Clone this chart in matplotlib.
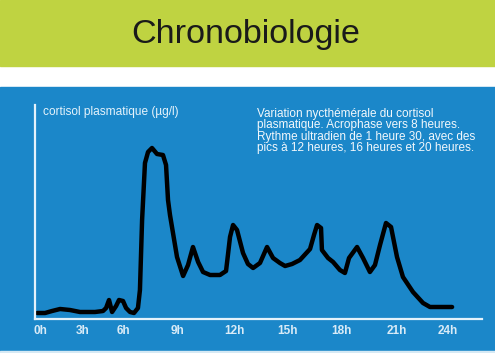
import numpy as np
import matplotlib
matplotlib.use("Agg")
import matplotlib.pyplot as plt
from matplotlib.patches import Rectangle

# Cortisol plasmatique sur 24 h (unités arbitraires)
heures = [-0.2, 0.35, 0.84, 1.40, 2.09, 2.79, 3.9, 4.5, 4.73, 4.95, 5.18, 5.48,
          5.7, 6.0, 6.17, 6.39, 6.61, 6.83, 6.94, 7.06, 7.22, 7.39, 7.61, 7.89,
          8.22, 8.39, 8.5, 8.61, 9.0, 9.32, 9.58, 9.84, 10.11, 10.37, 10.74,
          11.26, 11.58, 11.68, 11.79, 11.95, 12.17, 12.51, 12.79, 13.08, 13.47,
          13.87, 14.21, 14.6, 14.89, 15.28, 15.72, 16.28, 16.5, 16.67, 16.89,
          16.94, 17.28, 17.56, 17.94, 18.21, 18.43, 18.86, 19.18, 19.55, 19.82,
          20.09, 20.41, 20.68, 21.0, 21.35, 21.94, 22.53, 22.94, 24.24]
cortisol = [6, 6, 8, 10, 9, 7, 7, 8, 11, 19, 7, 13,
            19, 18, 11, 7, 6, 11, 29, 99, 156, 167, 171, 165,
            164, 154, 119, 104, 62, 43, 54, 72, 57, 47, 44,
            44, 48, 64, 82, 94, 89, 66, 55, 51, 56,
            72, 61, 56, 53, 55, 59, 70, 84, 94, 91,
            69, 61, 57, 49, 46, 61, 72, 61, 47, 54,
            74, 96, 92, 62, 42, 27, 16, 12, 12]

ticks_h = [0, 3, 6, 9, 12, 15, 18, 21, 24]
tick_labels = ["0h", "3h", "6h", "9h", "12h", "15h", "18h", "21h", "24h"]

titre = "Chronobiologie"
label_y = "cortisol plasmatique (µg/l)"
legende = ("Variation nycthémérale du cortisol\n"
           "plasmatique. Acrophase vers 8 heures.\n"
           "Rythme ultradien de 1 heure 30, avec des\n"
           "pics à 12 heures, 16 heures et 20 heures.")

# l'axe des heures du dessin n'est pas régulier : on reprend son espacement
h_ref = [-3, 0, 3, 6, 9, 12, 15, 18, 21, 24, 27]
pos_ref = [-3, 40, 83, 123, 177, 234, 287, 341, 397, 448, 499]


def fwd(h):
    return np.interp(h, h_ref, pos_ref)


def inv(p):
    return np.interp(p, pos_ref, h_ref)


W, H = 495, 353
fig = plt.figure(figsize=(W / 100, H / 100), dpi=100)
fig.patch.set_facecolor("white")

# bandeaux de fond
fig.patches.append(Rectangle((0, 1 - 66 / H), 1, 66 / H, transform=fig.transFigure,
                             color="#bfd341", zorder=-5))
fig.patches.append(Rectangle((0, 2 / H), 1, (351 - 87) / H, transform=fig.transFigure,
                             color="#1b87c9", zorder=-5))
fig.patches.append(Rectangle((0, 0), 1, 2 / H, transform=fig.transFigure,
                             color="#d6e9f4", zorder=-5))

fig.text(246 / W, 1 - 35 / H, titre, ha="center", va="center", fontsize=24.6,
         color="#1a1a1a", family="Liberation Sans")

ax = fig.add_axes([35 / W, (H - 319) / H, (482 - 35) / W, (319 - 105) / H])
ax.set_zorder(2)
ax.set_facecolor("none")
ax.set_xscale("function", functions=(fwd, inv))
ax.plot(heures, cortisol, color="black", lw=3.2, solid_joinstyle="round",
        solid_capstyle="round")
ax.set_xlim(-0.35, 26.0)
ax.set_ylim(0, 214)

for s in ["top", "right"]:
    ax.spines[s].set_visible(False)
for s in ["left", "bottom"]:
    ax.spines[s].set_color("#e4f2fb")
    ax.spines[s].set_linewidth(1.6)

ax.set_xticks(ticks_h)
ax.set_xticklabels(tick_labels)
ax.xaxis.set_minor_locator(matplotlib.ticker.NullLocator())
ax.set_yticks([])
ax.tick_params(axis="x", length=0, pad=4, labelsize=8.5, labelcolor="#d9ebf7")
for t in ax.get_xticklabels():
    t.set_family("Liberation Sans")
    t.set_fontweight("bold")

fig.text(43 / W, 1 - 112 / H, label_y, ha="left", va="center", fontsize=8.6,
         color="#e4f2fb", family="Liberation Sans")
fig.text(257 / W, 1 - 108 / H, legende, ha="left", va="top", fontsize=8.5,
         color="#f2f8fc", family="Liberation Sans", linespacing=0.93)

fig.savefig("out.png", dpi=100)
